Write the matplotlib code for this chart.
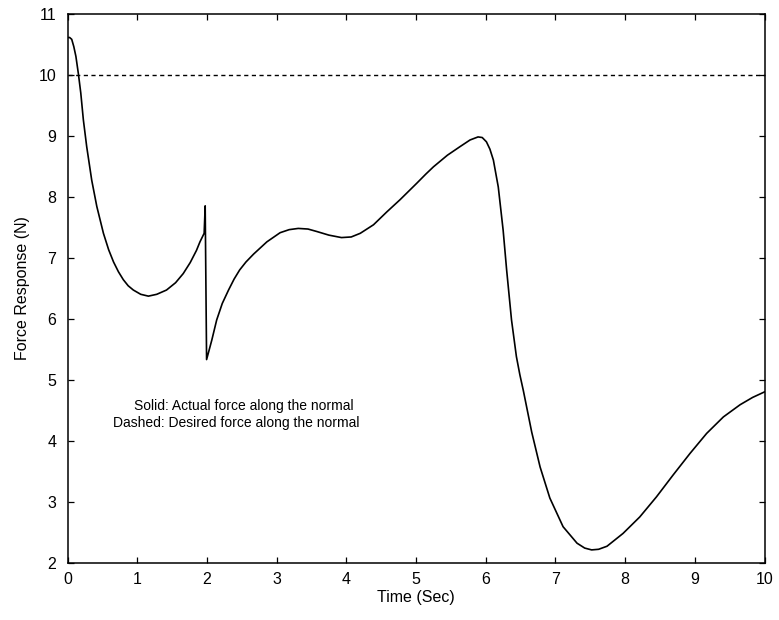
import matplotlib
matplotlib.use('Agg')
import matplotlib.pyplot as plt

plt.rcParams['font.family'] = ['Liberation Sans', 'DejaVu Sans']

# actual force along the normal (N) vs time (s)
time_s = [0.0, 0.03, 0.06, 0.09, 0.12, 0.155, 0.19, 0.227, 0.275, 0.347, 0.42,
          0.515, 0.59, 0.66, 0.73, 0.80, 0.87, 0.944, 1.05, 1.16, 1.28, 1.42,
          1.55, 1.66, 1.76, 1.85, 1.90, 1.96, 1.975, 1.995, 2.07, 2.14, 2.22,
          2.31, 2.39, 2.47, 2.56, 2.67, 2.86, 3.05, 3.18, 3.31, 3.45, 3.575,
          3.75, 3.93, 4.07, 4.20, 4.39, 4.58, 4.77, 5.01, 5.14, 5.25, 5.45,
          5.63, 5.775, 5.89, 5.95, 6.01, 6.06, 6.11, 6.18, 6.25, 6.30, 6.37,
          6.44, 6.49, 6.54, 6.66, 6.78, 6.92, 7.11, 7.31, 7.42, 7.52, 7.62,
          7.74, 7.97, 8.21, 8.45, 8.69, 8.93, 9.17, 9.41, 9.65, 9.83, 10.0]
force_actual = [10.61, 10.61, 10.58, 10.46, 10.30, 10.02, 9.70, 9.26, 8.82, 8.27,
                7.84, 7.40, 7.13, 6.93, 6.77, 6.64, 6.54, 6.47, 6.40, 6.37, 6.40,
                6.47, 6.59, 6.74, 6.92, 7.12, 7.26, 7.40, 7.85, 5.33, 5.65, 5.98,
                6.25, 6.47, 6.65, 6.80, 6.93, 7.06, 7.26, 7.41, 7.46, 7.48, 7.47,
                7.43, 7.37, 7.33, 7.34, 7.40, 7.54, 7.75, 7.95, 8.22, 8.37, 8.49,
                8.68, 8.82, 8.93, 8.98, 8.97, 8.90, 8.78, 8.60, 8.16, 7.45, 6.80,
                5.98, 5.38, 5.08, 4.82, 4.14, 3.57, 3.06, 2.59, 2.32, 2.24, 2.21,
                2.22, 2.27, 2.48, 2.75, 3.08, 3.44, 3.79, 4.12, 4.39, 4.59, 4.71,
                4.80]

# desired force along the normal (N)
desired_time = [0.0, 10.0]
force_desired = [10.0, 10.0]

fig = plt.figure(figsize=(7.79, 6.2), dpi=100)
ax = fig.add_axes([0.0867, 0.0924, 0.8947, 0.8855])

ax.plot(time_s, force_actual, color='black', linewidth=1.2)
ax.plot(desired_time, force_desired, color='black', linewidth=1.0,
        linestyle=(0, (3, 2.5)))

ax.set_xlim(0, 10)
ax.set_ylim(2, 11)
ax.set_xticks(range(0, 11))
ax.set_yticks(range(2, 12))

ax.tick_params(direction='in', length=4.5, width=0.9, top=True, right=True,
               labelsize=11.5)
ax.tick_params(axis='x', pad=7)
ax.tick_params(axis='y', pad=8)
for sp in ax.spines.values():
    sp.set_linewidth(1.1)

ax.set_xlabel('Time (Sec)', fontsize=11.5, labelpad=2)
ax.set_ylabel('Force Response (N)', fontsize=11.5, labelpad=6)

ax.text(2.53, 4.57, 'Solid: Actual force along the normal', fontsize=10,
        ha='center', va='center')
ax.text(2.42, 4.29, 'Dashed: Desired force along the normal', fontsize=10,
        ha='center', va='center')

fig.savefig('out.png', dpi=100)
